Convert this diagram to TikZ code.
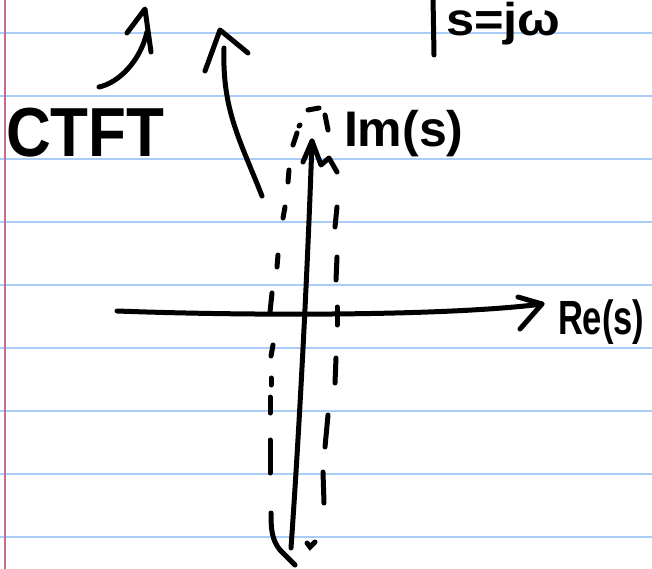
\documentclass[tikz,border=0pt]{standalone}
\usepackage{fontspec}
\setmainfont{Liberation Sans}
\definecolor{ruleblue}{HTML}{A9CDF6}
\definecolor{marginred}{HTML}{C46A8E}
\tikzset{
  ink/.style={line width=5pt, line cap=round, line join=round, black},
  dashink/.style={line width=5pt, line cap=round, black},
  rule/.style={line width=1.8pt, ruleblue},
  hand/.style={inner sep=0pt, outer sep=0pt, font=\bfseries\fontsize{#1}{#1}\selectfont},
}
\begin{document}
\begin{tikzpicture}[x=1pt,y=-1pt]
\useasboundingbox (0,0) rectangle (652,569);
\fill[white] (0,0) rectangle (652,569);
% ruled paper
\foreach \yy in {33,96,159,222,285,348,411,474,537}
  \draw[rule] (0,\yy) -- (652,\yy);
\draw[line width=1.8pt, marginred] (5,0) -- (5,569);

% texts
\node[hand=62, anchor=base west, yscale=1.12, transform shape] (ctft) at (6,157) {CTFT};
\node[hand=50, anchor=base west] (im) at (344,147) {Im(s)};
\node[hand=48, anchor=base west, xscale=0.72, transform shape] (re) at (558,334) {Re(s)};
\node[hand=46, anchor=base west, xscale=1.1, transform shape] (sjw) at (446,36) {s=jω};
\coordinate (barT) at (433,-3);
\coordinate (barB) at (434,55);
\draw[ink] (barT) -- (barB);

% arrow 1 (from CTFT)
\coordinate (a1s) at (99,87);
\coordinate (a1e) at (147,32);
\coordinate (a1t) at (145,9);
\coordinate (a1l) at (127,33);
\coordinate (a1r) at (151,52);
\draw[ink] (a1s) .. controls (118,83) and (140,62) .. (a1e);
\draw[ink] (a1l) -- (a1t) -- (a1r);

% arrow 2 (long)
\coordinate (a2s) at (262,196);
\coordinate (a2e) at (224,48);
\coordinate (a2t) at (220,30);
\coordinate (a2l) at (205,71);
\coordinate (a2r) at (248,53);
\draw[ink] (a2s) .. controls (240,140) and (222,110) .. (a2e);
\draw[ink] (a2l) -- (a2t) -- (a2r);

% horizontal axis
\coordinate (hx0) at (117,311);
\coordinate (hx1) at (542,304);
\draw[ink] (hx0) .. controls (250,316) and (450,316) .. (hx1);
\coordinate (hxu) at (518,297);
\coordinate (hxd) at (520,329);
\draw[ink] (hxu) -- (hx1) -- (hxd);

% vertical axis
\coordinate (vy0) at (291,548);
\coordinate (vy1) at (312,141);
\draw[ink] (vy0) .. controls (300,420) and (308,260) .. (vy1);
\coordinate (vyl) at (303,162);
\draw[ink] (vyl) -- (vy1) -- (321,165) -- (329,158) -- (337,172);

% dashed strip, left side
\foreach \a/\b in {{(299,126)/(300,125)},{(297,133)/(293,145)},{(289,170)/(288,182)},{(285,207)/(283,218)},
                   {(278,255)/(277,267)},{(272,293)/(270,312)},{(273,345)/(271,356)},{(271,378)/(271,385)},
                   {(270,397)/(270,413)},{(270,440)/(270,473)}}
  \draw[dashink] \a -- \b;
\draw[dashink] (271,513) .. controls (271,530) and (272,540) .. (280,550) -- (295,565);
% top cap
\draw[dashink] (308,110) -- (319,108);
% dashed strip, right side
\foreach \a/\b in {{(325,115)/(328,130)},{(337,207)/(335,227)},{(337,257)/(336,280)},
                   {(337,307)/(337,325)},{(336,358)/(335,383)},{(328,415)/(325,447)},{(323,472)/(324,503)}}
  \draw[dashink] \a -- \b;
\draw[dashink] (307,543) -- (310,547) -- (315,542);
\end{tikzpicture}
\end{document}
